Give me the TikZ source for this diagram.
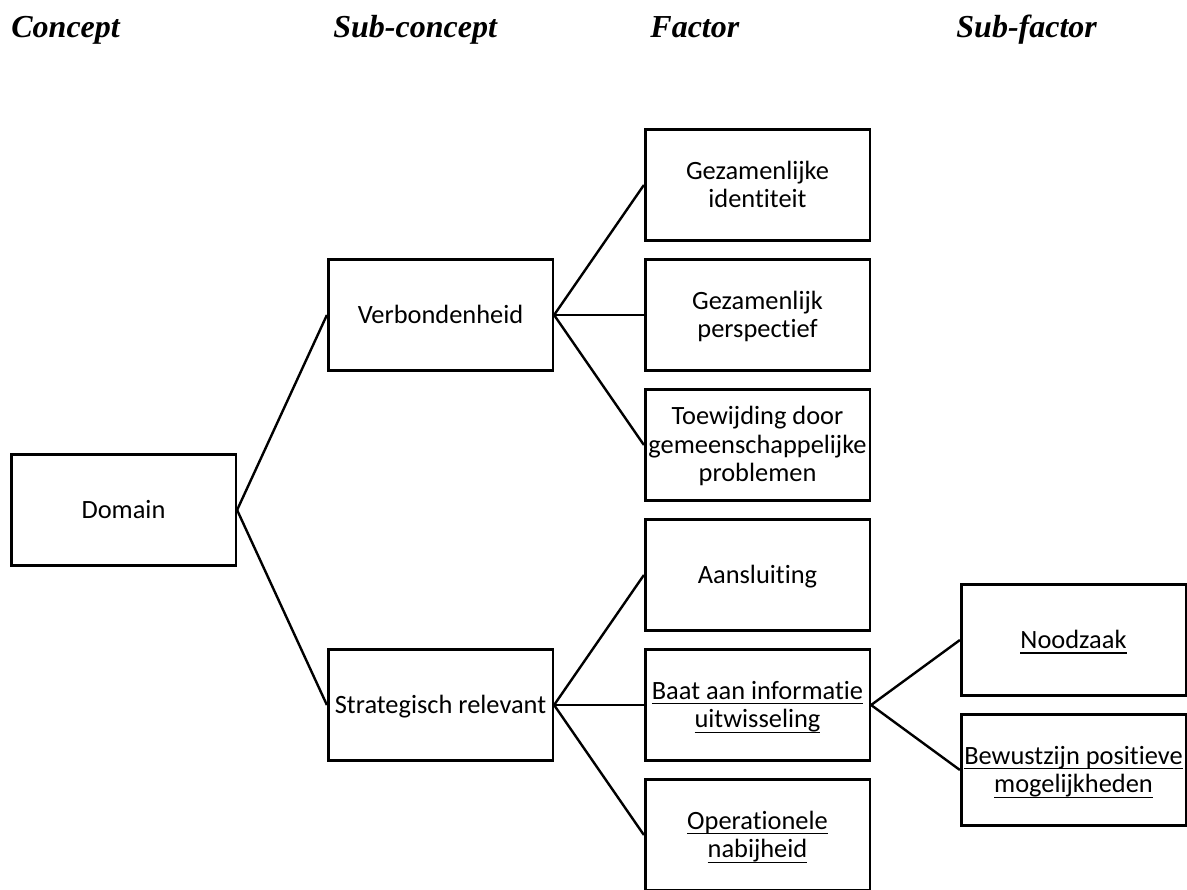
\documentclass[tikz,border=0pt]{standalone}
\usepackage{fontspec}
\setmainfont{Carlito}[Ligatures=NoCommon]
\newfontfamily\headfont{Liberation Serif}
% line strut: keeps each line of a box at the same height and depth
\newcommand\sx{\rule[-2.75pt]{0pt}{13.75pt}}
% underline sitting a little below the baseline
\newcommand\ulx[1]{\setbox0\hbox{#1}\rlap{\rule[-2.7pt]{\wd0}{0.7pt}}\box0}
\begin{document}
\begin{tikzpicture}[x=0.5pt,y=-0.5pt,
  box/.style={draw, line width=1.3pt, minimum width=112.3pt, minimum height=55.5pt,
    inner sep=1pt, align=center, font=\fontsize{13.2pt}{14.25pt}\selectfont},
  head/.style={anchor=base west, inner sep=0pt,
    font=\headfont\bfseries\itshape\fontsize{16pt}{18pt}\selectfont},
  link/.style={line width=1.2pt}]
\useasboundingbox (0,0) rectangle (1187,889);

% column headings
\node[head] (hc) at (11,37) {Concept};
\node[head] (hs) at (333,37) {Sub-concept};
\node[head] (hf) at (650,37) {Factor};
\node[head] (hsf) at (956,37) {Sub-factor};

% concept and sub-concepts
\node[box] (dom) at (123.5,510) {\sx Domain};
\node[box] (verb) at (440.5,315) {\sx Verbondenheid};
\node[box] (strat) at (440.5,705) {\sx Strategisch relevant};

% factors
\node[box] (f1) at (757.5,185) {\sx Gezamenlijke\\\sx identiteit};
\node[box] (f2) at (757.5,315) {\sx Gezamenlijk\\\sx perspectief};
\node[box] (f3) at (757.5,445) {\sx Toewijding door\\\sx gemeenschappelijke\\\sx problemen};
\node[box] (f4) at (757.5,575) {\sx Aansluiting};
\node[box] (f5) at (757.5,705) {\sx\ulx{Baat aan informatie}\\\sx\ulx{uitwisseling}};
\node[box] (f6) at (757.5,835) {\sx\ulx{Operationele}\\\sx\ulx{nabijheid}};

% sub-factors
\node[box] (s1) at (1073.5,640) {\sx\ulx{Noodzaak}};
\node[box] (s2) at (1073.5,770) {\sx\ulx{Bewustzijn positieve}\\\sx\ulx{mogelijkheden}};

% connectors
\draw[link] (dom.east) -- (verb.west);
\draw[link] (dom.east) -- (strat.west);
\foreach \t in {f1,f2,f3} \draw[link] (verb.east) -- (\t.west);
\foreach \t in {f4,f5,f6} \draw[link] (strat.east) -- (\t.west);
\foreach \t in {s1,s2} \draw[link] (f5.east) -- (\t.west);
\end{tikzpicture}
\end{document}
